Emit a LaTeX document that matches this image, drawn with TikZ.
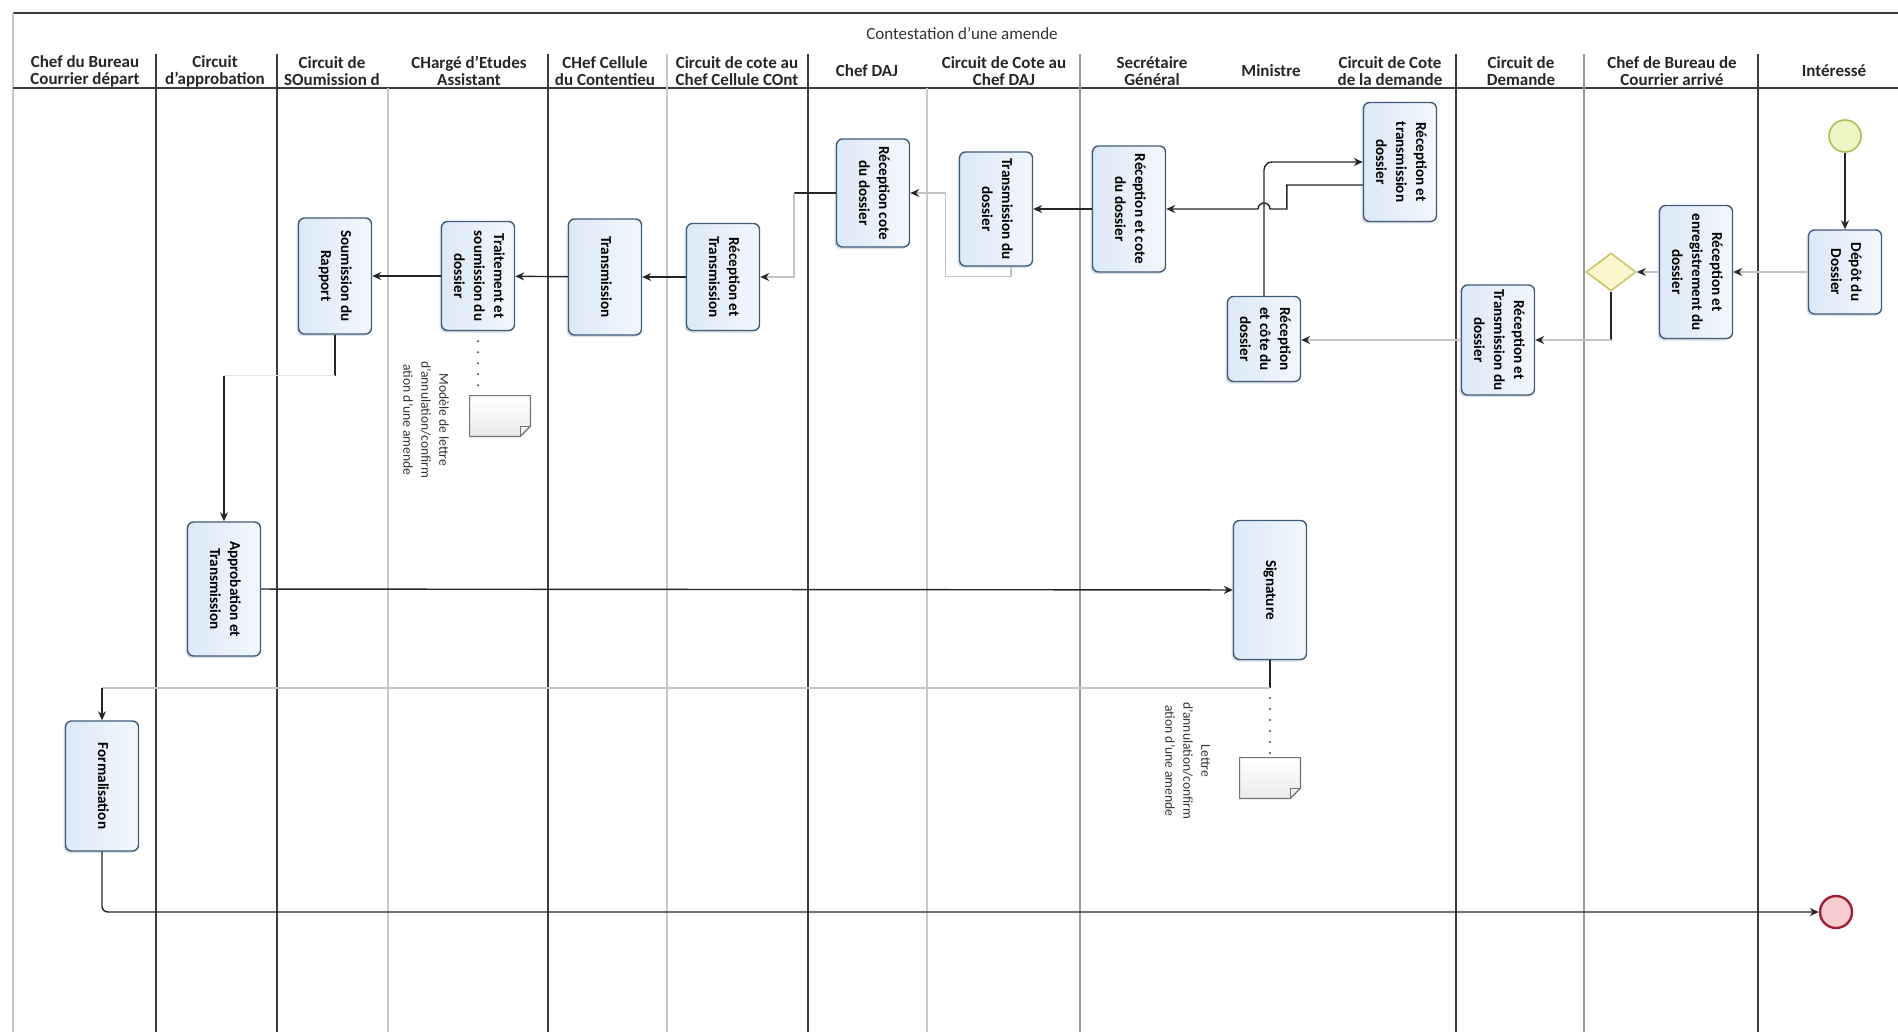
\documentclass[tikz,border=0pt]{standalone}
\usepackage{fontspec}
\setmainfont{Carlito}
\usepackage{graphicx}
\usetikzlibrary{arrows.meta,shapes.geometric,shadows,calc}

\definecolor{boxline}{HTML}{3F5C7A}
\definecolor{boxfill}{HTML}{DCE9F7}
\definecolor{lanedk}{HTML}{3C3C3C}
\definecolor{lanemd}{HTML}{9A9A9A}
\definecolor{lanelt}{HTML}{C8C8C8}
\definecolor{flowlt}{HTML}{C4C4C4}
\definecolor{startfill}{HTML}{EEF6C6}
\definecolor{startline}{HTML}{A9C15C}
\definecolor{endfill}{HTML}{F7CDD0}
\definecolor{endline}{HTML}{A21F2F}
\definecolor{gwfill}{HTML}{FBF7CC}
\definecolor{gwline}{HTML}{CEC36A}

% text of a task box, turned to read from top to bottom
\newcommand{\vtxt}[1]{\rotatebox{-90}{\begin{tabular}{@{}c@{}}#1\end{tabular}}}

\tikzset{
  task/.style={draw=boxline, line width=0.7pt, rounded corners=3pt,
    left color=boxfill, right color=boxfill!35, minimum width=36.5pt,
    inner sep=0pt, font=\fontsize{7.6}{10}\selectfont\bfseries,
    drop shadow={shadow xshift=-1pt, shadow yshift=-1pt, opacity=0.2, fill=boxline}},
  lanehead/.style={align=center, font=\fontsize{8.5}{8.5}\selectfont\bfseries,
    text=black!85, inner sep=0pt},
  startev/.style={circle, draw=startline, fill=startfill, line width=0.8pt,
    minimum size=16pt, inner sep=0pt},
  endev/.style={circle, draw=endline, fill=endfill, line width=1.2pt,
    minimum size=16pt, inner sep=0pt},
  gateway/.style={diamond, draw=gwline, fill=gwfill, line width=0.8pt,
    minimum width=25pt, minimum height=19pt, inner sep=0pt},
  docnode/.style={minimum width=30pt, minimum height=20pt, inner sep=0pt},
  docline/.style={draw=black!55, line width=0.6pt, top color=white, bottom color=black!8},
  note/.style={font=\fontsize{6.8}{9}\selectfont, text=black!80, inner sep=0pt},
  flow/.style={draw=black!85, line width=0.7pt},
  faint/.style={draw=flowlt, line width=0.7pt},
  flowarrow/.style={-{Stealth[length=4.5pt,width=4pt,color=black!85]}},
  assoc/.style={draw=black!70, line width=1.1pt, line cap=round,
    dash pattern=on 0pt off 5.5pt},
}

\begin{document}
\begin{tikzpicture}[x=0.5pt,y=-0.5pt]
  \useasboundingbox (0,0) rectangle (1898,1032);

  % pool frame and header band
  \draw[lanedk, line width=1.1pt] (13,13) -- (1898,13);
  \draw[lanelt, line width=0.7pt] (13,13) -- (13,1032);
  \draw[lanedk, line width=0.6pt] (13,88) -- (1898,88);
  \node[font=\fontsize{8.5}{10}\selectfont, text=black!80] (title) at (962,34) {Contestation d'une amende};

  % lane separators
  \foreach \x in {156,277,548,808,1456,1758}
    \draw[lanedk, line width=0.7pt] (\x,54) -- (\x,1032);
  \foreach \x in {1080,1584}
    \draw[lanemd, line width=0.7pt] (\x,54) -- (\x,1032);
  \draw[lanelt, line width=0.7pt] (667,54) -- (667,1032);
  \draw[lanelt, line width=0.7pt] (388,88) -- (388,1032);
  \draw[lanelt, line width=0.7pt] (927,88) -- (927,1032);

  % lane titles
  \node[lanehead] (h1) at (85,71) {Chef du Bureau\\Courrier départ};
  \node[lanehead] (h2) at (215,71) {Circuit\\d'approbation};
  \node[lanehead] (h3) at (332,71) {Circuit de\\SOumission d};
  \node[lanehead] (h4) at (469,71) {CHargé d'Etudes\\Assistant};
  \node[lanehead] (h5) at (605,71) {CHef Cellule\\du Contentieu};
  \node[lanehead] (h6) at (737,71) {Circuit de cote au\\Chef Cellule COnt};
  \node[lanehead] (h7) at (867,71) {Chef DAJ};
  \node[lanehead] (h8) at (1004,71) {Circuit de Cote au\\Chef DAJ};
  \node[lanehead] (h9) at (1152,71) {Secrétaire\\Général};
  \node[lanehead] (h10) at (1271,71) {Ministre};
  \node[lanehead] (h11) at (1390,71) {Circuit de Cote\\de la demande};
  \node[lanehead] (h12) at (1521,71) {Circuit de\\Demande};
  \node[lanehead] (h13) at (1672,71) {Chef de Bureau de\\Courrier arrivé};
  \node[lanehead] (h14) at (1834,71) {Intéressé};

  % events and gateway
  \node[startev] (start) at (1845,136) {};
  \node[endev] (stop) at (1836,912) {};
  \node[gateway] (gw) at (1611,272) {};

  % tasks
  \node[task, minimum height=42pt] (depot) at (1845,272) {\vtxt{Dépôt du\\Dossier}};
  \node[task, minimum height=66.5pt] (enreg) at (1696,272) {\vtxt{Réception et\\enregistrement du\\dossier}};
  \node[task, minimum height=55pt] (cdem) at (1498,340) {\vtxt{Réception et\\Transmission du\\dossier}};
  \node[task, minimum height=59.5pt] (ccote) at (1400,162) {\vtxt{Réception et\\transmission\\dossier}};
  \node[task, minimum height=42.5pt] (minr) at (1264,339) {\vtxt{Réception\\et côte du\\dossier}};
  \node[task, minimum height=63pt] (sg) at (1129,209) {\vtxt{Réception et cote\\du dossier}};
  \node[task, minimum height=57pt] (ccdaj) at (996,209) {\vtxt{Transmission du\\dossier}};
  \node[task, minimum height=54pt] (daj) at (873,193) {\vtxt{Réception cote\\du dossier}};
  \node[task, minimum height=53.5pt] (ccc) at (723,277) {\vtxt{Réception et\\Transmission}};
  \node[task, minimum height=58pt] (cell) at (605,277) {\vtxt{Transmission}};
  \node[task, minimum height=54.5pt] (charge) at (478,276) {\vtxt{Traitement et\\soumission du\\dossier}};
  \node[task, minimum height=58pt] (soum) at (335,276) {\vtxt{Soumission du\\Rapport}};
  \node[task, minimum height=67pt] (appro) at (224,589) {\vtxt{Approbation et\\Transmission}};
  \node[task, minimum height=69.5pt] (sign) at (1270,590) {\vtxt{Signature}};
  \node[task, minimum height=65pt] (formal) at (102,786) {\vtxt{Formalisation}};

  % data objects (folded corner at the bottom right)
  \node[docnode] (doc1) at (500,416) {};
  \node[docnode] (doc2) at (1270,778) {};
  \foreach \d in {doc1,doc2} {
    \draw[docline] (\d.north west) -- (\d.north east) -- ([yshift=5pt]\d.south east)
      -- ([xshift=-5pt]\d.south east) -- (\d.south west) -- cycle;
    \draw[draw=black!55, line width=0.6pt] ([yshift=5pt]\d.south east)
      -- ([xshift=-5pt,yshift=5pt]\d.south east) -- ([xshift=-5pt]\d.south east);
  }
  \node[note] (n1) at (425,420) {\vtxt{Modèle de lettre\\d'annulation/confirm\\ation d'une amende}};
  \node[note] (n2) at (1187,761) {\vtxt{Lettre\\d'annulation/confirm\\ation d'une amende}};

  % sequence flows, right to left
  \draw[flow, flowarrow] (start) -- (depot);
  \draw[faint, flowarrow] (depot) -- (enreg);
  \draw[faint, flowarrow] (enreg) -- (gw);
  \coordinate (gd) at (1611,340);
  \draw[flow] (gw.south) -- (gd);
  \draw[faint, flowarrow] (gd) -- (cdem.east);
  \draw[faint, flowarrow] (cdem.west) -- (cdem.west -| minr.east);
  \draw[flow, flowarrow, rounded corners=4pt] (minr.north) |- (ccote.west);
  % back to the SG, hopping over the line above
  \draw[flow, flowarrow] ($(ccote.west)+(0,23)$) -- ++(-76,0) -- ++(0,24)
    -- (1270,209) arc[start angle=0, end angle=180, radius=3pt] -- (sg.east);
  \draw[flow, flowarrow] (sg) -- (ccdaj);
  \draw[faint, flowarrow] ($(ccdaj.south)+(15,0)$) -- ++(0,10) -| ($(daj.east)+(35,0)$) -- (daj.east);
  \draw[flow] (daj.west) -- ++(-42,0) coordinate (dj);
  \draw[faint, flowarrow] (dj) |- (ccc.east);
  \draw[flow, flowarrow] (ccc) -- (cell);
  \draw[flow, flowarrow] (cell) -- (charge);
  \draw[flow, flowarrow] (charge) -- (soum);
  \draw[flow] (soum.south) -- ++(0,41) coordinate (sr);
  \draw[draw=black!10, line width=0.6pt] (sr) -- (sr -| appro.north);
  \draw[flow, flowarrow] (sr -| appro.north) -- (appro.north);
  \draw[flow, flowarrow] (appro) -- (sign);
  \coordinate (sb) at (1270,688);
  \draw[flow] (sign.south) -- (sb);
  \draw[faint] (sb) -- (sb -| formal.north);
  \draw[flow, flowarrow] (sb -| formal.north) -- (formal.north);
  \draw[flow, flowarrow, rounded corners=3pt] (formal.south) |- (stop.west);

  % associations to the letters
  \draw[assoc] ($(charge.south)+(0,10)$) -- (charge.south |- doc1.north);
  \draw[assoc] ($(sb)+(0,10)$) -- (doc2.north);
\end{tikzpicture}
\end{document}
